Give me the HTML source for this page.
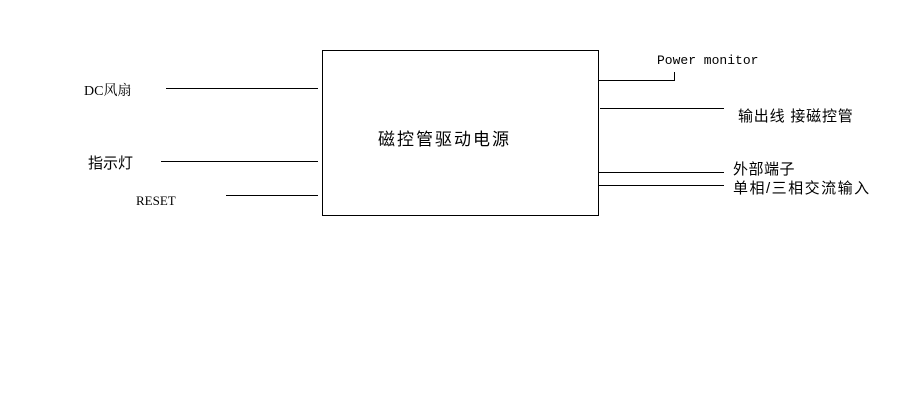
<!DOCTYPE html>
<html><head><meta charset="utf-8"><style>
body{margin:0;background:#fff;width:923px;height:403px;overflow:hidden;position:relative;font-family:"Liberation Sans","Noto Sans CJK SC",sans-serif;}
.t{position:absolute;white-space:nowrap;color:#000;font-size:14px;line-height:16px;}
.h{position:absolute;height:1px;background:#000;}
.v{position:absolute;width:1px;background:#000;}
</style></head><body>
<div style="position:absolute;left:322px;top:50px;width:275px;height:164px;border:1px solid #000;"></div>
<div class="h" style="left:166px;top:88px;width:152px"></div>
<div class="h" style="left:161px;top:161px;width:157px"></div>
<div class="h" style="left:226px;top:195px;width:92px"></div>
<div class="h" style="left:598px;top:80px;width:77px"></div>
<div class="v" style="left:674px;top:72px;height:9px"></div>
<div class="h" style="left:600px;top:108px;width:124px"></div>
<div class="h" style="left:598px;top:172px;width:126px"></div>
<div class="h" style="left:598px;top:185px;width:126px"></div>
<div class="t" style="left:84px;top:84px;font-family:'Liberation Serif','Noto Serif CJK SC',serif">DC风扇</div>
<div class="t" style="left:88px;top:156px;font-size:15px">指示灯</div>
<div class="t" style="left:136px;top:193px;font-family:'Liberation Serif',serif;font-size:13px">RESET</div>
<div class="t" style="left:378px;top:130px;font-size:17px;line-height:19px;letter-spacing:2px">磁控管驱动电源</div>
<div class="t" style="left:657px;top:53px;font-family:'Liberation Mono',monospace;font-size:13px">Power monitor</div>
<div class="t" style="left:738px;top:109px;font-size:15px;letter-spacing:0.8px">输出线 接磁控管</div>
<div class="t" style="left:733px;top:162px;font-size:15px;letter-spacing:0.5px">外部端子</div>
<div class="t" style="left:733px;top:181px;font-size:15px;letter-spacing:1.5px">单相/三相交流输入</div>
</body></html>
